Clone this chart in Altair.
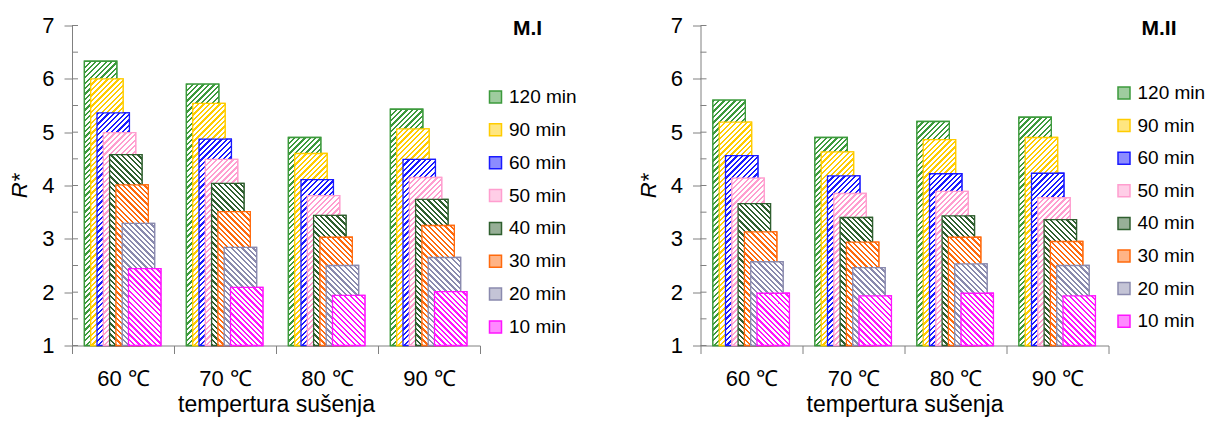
import altair as alt
import pandas as pd

# ---------------- data ----------------
temps = ["60 ℃", "70 ℃", "80 ℃", "90 ℃"]
times = ["120 min", "90 min", "60 min", "50 min", "40 min", "30 min", "20 min", "10 min"]
panels = ["M.I", "M.II"]

m1_120 = [6.33, 5.90, 4.90, 5.43]
m1_90 = [6.00, 5.54, 4.60, 5.06]
m1_60 = [5.36, 4.87, 4.11, 4.49]
m1_50 = [4.99, 4.49, 3.81, 4.15]
m1_40 = [4.58, 4.04, 3.44, 3.74]
m1_30 = [4.01, 3.51, 3.03, 3.25]
m1_20 = [3.29, 2.84, 2.50, 2.65]
m1_10 = [2.44, 2.09, 1.94, 2.01]

m2_120 = [5.60, 4.90, 5.20, 5.28]
m2_90 = [5.19, 4.63, 4.86, 4.90]
m2_60 = [4.56, 4.18, 4.22, 4.23]
m2_50 = [4.14, 3.85, 3.89, 3.77]
m2_40 = [3.66, 3.40, 3.43, 3.36]
m2_30 = [3.13, 2.94, 3.03, 2.95]
m2_20 = [2.57, 2.46, 2.53, 2.50]
m2_10 = [1.98, 1.93, 1.98, 1.93]

y_ticks = [1, 2, 3, 4, 5, 6, 7]
inner_ticks = [1, 1.5, 2, 2.5, 3, 3.5, 4, 4.5, 5, 5.5, 6, 6.5, 7]

colors = ["#3C9A3C", "#FFCC00", "#1A1AFF", "#FF9ECF", "#2F5F2F", "#FF6A0D", "#8A8AAE", "#FF14FF"]
hatch_dir = ["/", "/", "/", "/", "\\", "\\", "\\", "\\"]

series_m1 = [m1_120, m1_90, m1_60, m1_50, m1_40, m1_30, m1_20, m1_10]
series_m2 = [m2_120, m2_90, m2_60, m2_50, m2_40, m2_30, m2_20, m2_10]

# ---------------- layout / style ----------------
W, H = 408, 320
CAT_PX = W / 4
OFF0 = 12.4 / CAT_PX
STEP = 6.3 / CAT_PX
BW = 32.4 / CAT_PX
PERIOD = 5.4
FRAC = 0.42
FONT = "Liberation Sans"


def tint(hexc, f=0.5):
    r, g, b = int(hexc[1:3], 16), int(hexc[3:5], 16), int(hexc[5:7], 16)
    r, g, b = [round(c * f + 255 * (1 - f)) for c in (r, g, b)]
    return "#%02x%02x%02x" % (r, g, b)


tints = [tint(c) for c in colors]


def hatch(color, direction, value):
    w = BW * CAT_PX
    h = max((value - 1) / 6 * H, 1)
    L = (w * w + h * h) / (w + h)
    a, b = w / L, h / L
    n = max(int(round((w + h) / PERIOD)), 1)
    stops = []
    for i in range(n):
        o0, o1, o2 = i / n, (i + FRAC) / n, (i + 1) / n
        stops += [
            alt.GradientStop(offset=round(o0, 5), color=color),
            alt.GradientStop(offset=round(o1, 5), color=color),
            alt.GradientStop(offset=round(o1, 5), color="white"),
            alt.GradientStop(offset=round(o2, 5), color="white"),
        ]
    if direction == "/":
        return alt.LinearGradient(gradient="linear", x1=0, y1=0, x2=a, y2=b, stops=stops)
    return alt.LinearGradient(gradient="linear", x1=0, y1=1, x2=a, y2=1 - b, stops=stops)


label_expr = "[" + ",".join("'%s'" % t for t in temps) + "][datum.value] || ''"

x_enc = alt.X(
    "x0:Q",
    scale=alt.Scale(domain=[0, 4], nice=False, zero=False),
    axis=alt.Axis(
        title="tempertura sušenja", values=[0, 1, 2, 3, 4], labelExpr=label_expr,
        labelOffset=CAT_PX / 2, labelFlush=False, labelOverlap=False, grid=False,
        tickSize=8, labelPadding=15, labelFontSize=22, titleFontSize=23,
        titleFontWeight="normal", titlePadding=4, domainColor="#808080",
        tickColor="#808080", labelColor="black", titleColor="black",
    ),
)
y_axis = alt.Axis(
    title="R*", values=y_ticks, grid=False, tickSize=8, labelPadding=10,
    labelFontSize=22, titleFontSize=22, titleFontStyle="italic",
    titleFontWeight="normal", titlePadding=10, domainColor="#808080",
    tickColor="#808080", labelColor="black", titleColor="black",
)
y_scale = alt.Scale(domain=[1, 7], nice=False, zero=False)


def panel(series, name, legend_y, row_pad):
    rows = []
    for k, t in enumerate(times):
        for c, tp in enumerate(temps):
            rows.append({"temp": tp, "time": t, "v": series[k][c], "ci": c, "k": k})
    df = pd.DataFrame(rows)
    base = alt.Chart(df).transform_calculate(
        x0=f"datum.ci + {OFF0} + datum.k * {STEP}",
        x1=f"datum.ci + {OFF0} + datum.k * {STEP} + {BW}",
    )
    leg = alt.Legend(
        title=None, orient="none", legendX=W + 6, legendY=legend_y,
        symbolType="square", symbolSize=144, symbolStrokeWidth=1.5,
        labelFontSize=19, labelOffset=4, rowPadding=row_pad, padding=0,
        labelColor="black",
    )
    carrier = base.mark_bar(strokeWidth=1.3).encode(
        x=x_enc, x2="x1:Q", y=alt.Y("v:Q", scale=y_scale, axis=y_axis), y2=alt.datum(1),
        fill=alt.Fill("time:N", scale=alt.Scale(domain=times, range=tints), legend=leg),
        stroke=alt.Stroke("time:N", scale=alt.Scale(domain=times, range=colors), legend=leg),
    )
    layers = [carrier]
    for k in range(len(times)):
        for c in range(len(temps)):
            g = hatch(colors[k], hatch_dir[k], series[k][c])
            layers.append(
                base.transform_filter(f"datum.k == {k} && datum.ci == {c}")
                .mark_bar(fill=g, stroke=colors[k], strokeWidth=1.3)
                .encode(x=x_enc, x2="x1:Q", y=alt.Y("v:Q", scale=y_scale, axis=y_axis), y2=alt.datum(1))
            )
    ticks = alt.Chart(pd.DataFrame({"v": inner_ticks})).mark_rule(color="#808080", strokeWidth=1).encode(
        y=alt.Y("v:Q", scale=y_scale, axis=y_axis), x=alt.value(0), x2=alt.value(6)
    )
    title = alt.Chart(pd.DataFrame({"t": [name]})).mark_text(
        align="left", baseline="alphabetic", fontSize=21, fontWeight="bold", color="black"
    ).encode(text="t:N", x=alt.value(W + 33), y=alt.value(9.5))
    return alt.layer(*layers, ticks, title).properties(width=W, height=H)


p1 = panel(series_m1, panels[0], 62, 12.85)
p2 = panel(series_m2, panels[1], 58, 12.6)

chart = (
    alt.hconcat(p1, p2, spacing=59.5)
    .resolve_scale(fill="independent", stroke="independent")
    .resolve_legend(fill="independent", stroke="independent")
    .configure(font=FONT, padding={"left": 0, "top": 6.5, "right": 0, "bottom": 0})
    .configure_view(stroke=None)
)

chart.save("out.html", embed_options={"renderer": "svg", "actions": False})
